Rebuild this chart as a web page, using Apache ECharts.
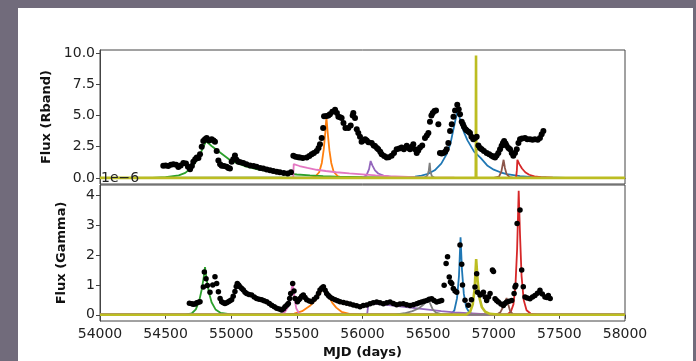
<!DOCTYPE html>
<html>
<head>
<meta charset="utf-8">
<script src="https://cdn.jsdelivr.net/npm/echarts@6/dist/echarts.min.js"></script>
<style>
  html, body { margin: 0; padding: 0; background: #716b7b; }
  #chart { width: 696px; height: 361px; }
</style>
</head>
<body>
<div id="chart"></div>
<script>
// R band light curve (black points), flux in units of 1e-6
const rbandMjd = [54482,54500,54520,54540,54559,54580,54597,54615,54635,54655,54670,54686,54700,54711,54725,54737,54750,54762,54775,54787,54800,54813,54830,54851,54865,54876,54889,54902,54915,54927,54945,54965,54978,54990,55003,55015,55028,55040,55054,55070,55092,55115,55143,55170,55193,55220,55244,55270,55295,55320,55346,55370,55400,55430,55455,55473,55490,55510,55524,55545,55575,55595,55613,55630,55651,55665,55676,55689,55700,55707,55725,55740,55752,55770,55791,55805,55816,55830,55841,55855,55870,55892,55910,55925,55930,55943,55956,55968,55981,55993,56006,56020,56032,56045,56070,56085,56095,56110,56120,56135,56146,56165,56184,56200,56222,56240,56260,56280,56298,56315,56337,56350,56362,56375,56387,56400,56413,56425,56438,56455,56476,56490,56502,56514,56525,56535,56548,56560,56578,56590,56603,56616,56630,56641,56654,56667,56680,56693,56705,56722,56733,56743,56756,56765,56773,56785,56794,56808,56819,56830,56844,56857,56870,56883,56895,56908,56925,56946,56965,56984,56997,57010,57022,57035,57048,57060,57070,57079,57090,57098,57112,57124,57137,57149,57162,57175,57188,57200,57215,57238,57255,57276,57295,57314,57335,57352,57365,57378];
const rbandFlux = [0.98,1.0,0.95,1.05,1.1,1.05,0.87,1.0,1.2,1.15,0.9,0.7,0.95,1.3,1.5,1.64,1.6,1.9,2.5,2.95,3.1,3.2,3.0,3.1,3.0,2.9,2.16,1.4,1.1,0.98,0.95,0.9,0.8,0.75,1.3,1.5,1.8,1.45,1.3,1.25,1.2,1.1,1.0,0.95,0.9,0.8,0.75,0.68,0.62,0.55,0.5,0.45,0.4,0.35,0.45,1.77,1.7,1.65,1.64,1.6,1.64,1.75,1.9,2.0,2.16,2.4,2.7,3.2,4.0,4.93,4.95,5.0,5.1,5.3,5.46,5.2,4.9,4.85,4.8,4.4,4.0,4.0,4.2,5.0,5.2,4.8,3.9,3.6,3.3,2.9,3.0,3.1,3.0,2.85,2.8,2.6,2.55,2.4,2.3,2.1,1.9,1.75,1.64,1.65,1.77,2.0,2.3,2.35,2.44,2.3,2.57,2.4,2.3,2.5,2.7,2.3,2.0,2.2,2.44,2.6,3.2,3.4,3.6,4.5,5.0,5.2,5.35,5.4,4.3,2.0,1.95,2.0,2.1,2.3,2.8,3.75,4.3,4.9,5.4,5.86,5.5,5.1,4.5,4.3,4.1,3.9,3.8,3.7,3.6,3.3,3.1,3.2,3.3,2.6,2.4,2.3,2.15,2.0,1.9,1.77,1.7,1.64,1.8,2.0,2.3,2.57,2.8,2.96,2.75,2.57,2.4,2.3,2.0,1.77,2.0,2.3,2.8,3.1,3.15,3.2,3.1,3.1,3.05,3.1,3.05,3.2,3.5,3.75];

// Gamma light curve (black points), flux in units of 1e-6
const gammaMjd = [54681,54700,54711,54725,54737,54750,54762,54787,54795,54808,54818,54838,54859,54876,54889,54902,54915,54927,54940,54952,54965,54978,54990,55003,55015,55028,55038,55046,55056,55066,55080,55092,55105,55117,55135,55155,55175,55193,55212,55232,55250,55270,55290,55308,55328,55346,55365,55384,55398,55410,55425,55435,55445,55453,55468,55478,55486,55504,55515,55524,55537,55549,55562,55575,55595,55613,55632,55651,55665,55676,55690,55702,55715,55727,55740,55752,55770,55791,55810,55829,55855,55880,55905,55930,55955,55981,56006,56032,56057,56082,56108,56133,56159,56185,56210,56235,56260,56285,56311,56336,56362,56388,56413,56432,56451,56470,56490,56508,56527,56545,56565,56585,56603,56622,56637,56648,56661,56670,56680,56692,56705,56718,56743,56756,56762,56781,56806,56830,56857,56870,56876,56895,56908,56921,56935,56946,56960,56972,56990,56998,57010,57022,57035,57055,57073,57085,57098,57117,57137,57155,57162,57168,57178,57200,57213,57225,57238,57255,57276,57295,57314,57333,57352,57370,57390,57405,57416,57430];
const gammaFlux = [0.39,0.37,0.35,0.36,0.4,0.42,0.44,0.93,1.44,1.21,0.98,0.76,1.0,1.28,1.05,0.77,0.55,0.44,0.4,0.38,0.4,0.44,0.47,0.5,0.62,0.78,0.95,1.05,1.0,0.94,0.88,0.83,0.76,0.71,0.68,0.66,0.6,0.55,0.52,0.5,0.47,0.44,0.38,0.32,0.27,0.22,0.19,0.16,0.2,0.27,0.33,0.38,0.55,0.71,1.05,0.8,0.55,0.44,0.5,0.55,0.62,0.66,0.58,0.5,0.46,0.44,0.52,0.6,0.72,0.83,0.9,0.94,0.82,0.71,0.65,0.6,0.55,0.5,0.47,0.44,0.41,0.39,0.36,0.33,0.3,0.27,0.31,0.33,0.37,0.4,0.43,0.4,0.37,0.4,0.43,0.38,0.34,0.36,0.37,0.34,0.31,0.34,0.37,0.4,0.43,0.45,0.48,0.52,0.54,0.48,0.43,0.45,0.48,0.99,1.72,1.95,1.27,1.1,1.05,0.88,0.8,0.76,2.34,1.7,1.0,0.49,0.32,0.5,0.93,1.38,0.76,0.66,0.7,0.76,0.6,0.48,0.6,0.71,1.5,1.45,0.54,0.48,0.43,0.36,0.31,0.38,0.43,0.45,0.48,0.71,0.93,0.99,3.07,3.52,1.5,0.94,0.6,0.56,0.54,0.6,0.65,0.72,0.82,0.7,0.6,0.58,0.65,0.55];

// flare model curves, R band  [mjd, flux]
const rBlue   = [[54000,0],[56300,0.03],[56400,0.1],[56450,0.18],[56500,0.33],[56550,0.61],[56600,1.14],[56640,1.88],[56670,2.74],[56700,4.25],[56725,5.45],[56750,4.4],[56775,3.6],[56800,3.0],[56850,2.1],[56900,1.6],[56950,1.0],[57000,0.66],[57050,0.45],[57100,0.3],[57200,0.14],[57300,0.06],[57400,0.03],[57550,0],[58000,0]];
const rOrange = [[54000,0],[55600,0],[55640,0.1],[55670,0.45],[55690,1.2],[55705,2.3],[55716,3.6],[55725,4.85],[55735,3.6],[55748,2.2],[55762,1.2],[55780,0.5],[55810,0.15],[55850,0.03],[55900,0],[58000,0]];
const rGreen  = [[54000,0],[54400,0],[54500,0.05],[54600,0.2],[54650,0.4],[54700,0.85],[54750,1.6],[54780,2.3],[54808,2.95],[54850,2.55],[54900,2.15],[55000,1.35],[55100,0.95],[55200,0.68],[55300,0.5],[55400,0.37],[55500,0.27],[55600,0.2],[55700,0.14],[55800,0.1],[56000,0.05],[56300,0.02],[56600,0],[58000,0]];
const rRed    = [[54000,0],[57170,0],[57176,0.6],[57180,1.45],[57195,1.1],[57215,0.75],[57240,0.45],[57270,0.25],[57310,0.12],[57360,0.05],[57450,0.01],[58000,0]];
const rPurple = [[54000,0],[56000,0],[56030,0.2],[56050,0.7],[56062,1.35],[56075,1.0],[56095,0.6],[56120,0.35],[56160,0.18],[56220,0.08],[56300,0.03],[56400,0],[58000,0]];
const rBrown  = [[54000,0],[57000,0],[57040,0.1],[57058,0.5],[57075,1.45],[57085,0.8],[57098,0.3],[57120,0.06],[57150,0],[58000,0]];
const rPink   = [[54000,0],[55472,0],[55476,1.1],[55520,0.95],[55580,0.8],[55650,0.65],[55720,0.55],[55800,0.45],[55900,0.36],[56000,0.28],[56100,0.2],[56200,0.14],[56300,0.1],[56400,0.06],[56500,0.03],[56700,0.01],[58000,0]];
const rGray   = [[54000,0],[56470,0],[56495,0.2],[56505,0.6],[56512,1.2],[56518,0.5],[56528,0.15],[56550,0],[58000,0]];
const rOlive  = [[54000,0],[56863,0],[56865,9.8],[56867,0],[58000,0]];

// flare model curves, gamma
const gBlue   = [[54000,0],[56670,0],[56700,0.15],[56720,0.55],[56735,1.3],[56747,2.6],[56758,1.5],[56772,0.7],[56790,0.25],[56815,0.07],[56850,0],[58000,0]];
const gOrange = [[54000,0],[55420,0],[55480,0.04],[55540,0.12],[55600,0.3],[55640,0.48],[55670,0.67],[55695,0.87],[55708,0.96],[55725,0.8],[55745,0.6],[55770,0.4],[55800,0.24],[55840,0.1],[55900,0.03],[56000,0],[58000,0]];
const gGreen  = [[54000,0],[54650,0],[54700,0.05],[54730,0.18],[54755,0.45],[54775,0.85],[54790,1.25],[54800,1.6],[54812,1.2],[54830,0.75],[54850,0.42],[54880,0.18],[54920,0.06],[55000,0.01],[55100,0],[58000,0]];
const gRed    = [[54000,0],[57100,0],[57130,0.1],[57150,0.35],[57165,0.95],[57178,2.2],[57190,4.17],[57200,2.7],[57212,1.3],[57228,0.5],[57250,0.15],[57280,0.04],[57330,0],[58000,0]];
const gPurple = [[54000,0],[56035,0],[56045,0.38],[56100,0.37],[56200,0.32],[56300,0.27],[56400,0.22],[56500,0.17],[56600,0.12],[56700,0.08],[56800,0.05],[56900,0.03],[57000,0.01],[57100,0],[58000,0]];
const gBrown  = [[54000,0],[57020,0],[57050,0.08],[57075,0.3],[57098,0.56],[57110,0.35],[57125,0.12],[57145,0.02],[57170,0],[58000,0]];
const gPink   = [[54000,0],[55380,0],[55410,0.1],[55430,0.25],[55450,0.55],[55468,1.1],[55480,0.6],[55495,0.22],[55515,0.06],[55550,0],[58000,0]];
const gGray   = [[54000,0],[56250,0],[56320,0.05],[56380,0.12],[56430,0.22],[56470,0.36],[56500,0.52],[56515,0.38],[56535,0.18],[56560,0.07],[56600,0.02],[56650,0],[58000,0]];
const gOlive  = [[54000,0],[56790,0],[56820,0.1],[56840,0.35],[56855,0.9],[56866,1.87],[56878,1.1],[56892,0.55],[56910,0.25],[56935,0.1],[56970,0.03],[57050,0],[58000,0]];

const rTicks = [0,2.5,5,7.5,10];
const gTicks = [0,1,2,3,4];

const colors = ['#1f77b4','#ff7f0e','#2ca02c','#d62728','#9467bd','#8c564b','#e377c2','#7f7f7f','#bcbd22'];
const rCurves = [rBlue, rOrange, rGreen, rRed, rPurple, rBrown, rPink, rGray, rOlive];
const gCurves = [gBlue, gOrange, gGreen, gRed, gPurple, gBrown, gPink, gGray, gOlive];

const font = 'DejaVu Sans';
const axisCol = '#444';

function curveSeries(curves, idx) {
    return curves.map((d, i) => ({
        type: 'line',
        xAxisIndex: idx,
        yAxisIndex: idx,
        data: d,
        showSymbol: false,
        symbol: 'none',
        silent: true,
        z: 2 + i * 0.01,
        lineStyle: { color: colors[i], width: i === 8 ? 2.6 : 1.8 }
    }));
}

function yAxis(idx, min, max, ticks, name, gap, fmt) {
    return {
        type: 'value',
        gridIndex: idx,
        min: min,
        max: max,
        name: name,
        nameLocation: 'middle',
        nameGap: gap,
        nameTextStyle: { fontFamily: font, fontWeight: 'bold', fontSize: 13, color: '#111' },
        axisLine: { show: true, lineStyle: { color: axisCol } },
        axisTick: { show: true, length: 4, lineStyle: { color: axisCol }, customValues: ticks },
        axisLabel: { customValues: ticks, formatter: fmt, fontFamily: font, fontSize: 14, color: '#222', margin: 5 },
        splitLine: { show: false }
    };
}

let chart = echarts.init(document.getElementById('chart'));
let option = {
    backgroundColor: '#716b7b',
    animation: false,
    graphic: [
        { type: 'rect', shape: { x: 18, y: 8, width: 675, height: 353 }, style: { fill: '#ffffff' }, z: -10 },
        { type: 'text', left: 101, top: 171, style: { text: '1e\u22126', fontFamily: font, fontSize: 14, fill: '#222' }, z: 100 }
    ],
    grid: [
        { left: 100, top: 50, width: 525, height: 134, show: true, borderColor: axisCol, borderWidth: 1 },
        { left: 100, top: 185, width: 525, height: 136, show: true, borderColor: axisCol, borderWidth: 1 }
    ],
    xAxis: [
        {
            type: 'value', gridIndex: 0, min: 54000, max: 58000, interval: 500,
            axisLine: { show: true, lineStyle: { color: axisCol } },
            axisTick: { show: false },
            axisLabel: { show: false },
            splitLine: { show: false }
        },
        {
            type: 'value', gridIndex: 1, min: 54000, max: 58000, interval: 500,
            name: 'MJD (days)', nameLocation: 'middle', nameGap: 25,
            nameTextStyle: { fontFamily: font, fontWeight: 'bold', fontSize: 13, color: '#111' },
            axisLine: { show: true, lineStyle: { color: axisCol } },
            axisTick: { show: true, length: 4, lineStyle: { color: axisCol } },
            axisLabel: { formatter: v => String(v), fontFamily: font, fontSize: 14, color: '#222', margin: 6 },
            splitLine: { show: false }
        }
    ],
    yAxis: [
        yAxis(0, -0.49, 10.24, rTicks, 'Flux (Rband)', 46, v => v.toFixed(1)),
        yAxis(1, -0.21, 4.36, gTicks, 'Flux (Gamma)', 32, v => String(v))
    ],
    series: [
        ...curveSeries(rCurves, 0),
        ...curveSeries(gCurves, 1),
        {
            type: 'scatter', xAxisIndex: 0, yAxisIndex: 0, z: 5,
            data: rbandMjd.map((t, i) => [t, rbandFlux[i]]),
            symbolSize: 6, itemStyle: { color: '#000', opacity: 1 }
        },
        {
            type: 'scatter', xAxisIndex: 1, yAxisIndex: 1, z: 5,
            data: gammaMjd.map((t, i) => [t, gammaFlux[i]]),
            symbolSize: 5.5, itemStyle: { color: '#000', opacity: 1 }
        }
    ]
};
chart.setOption(option);
</script>
</body>
</html>
